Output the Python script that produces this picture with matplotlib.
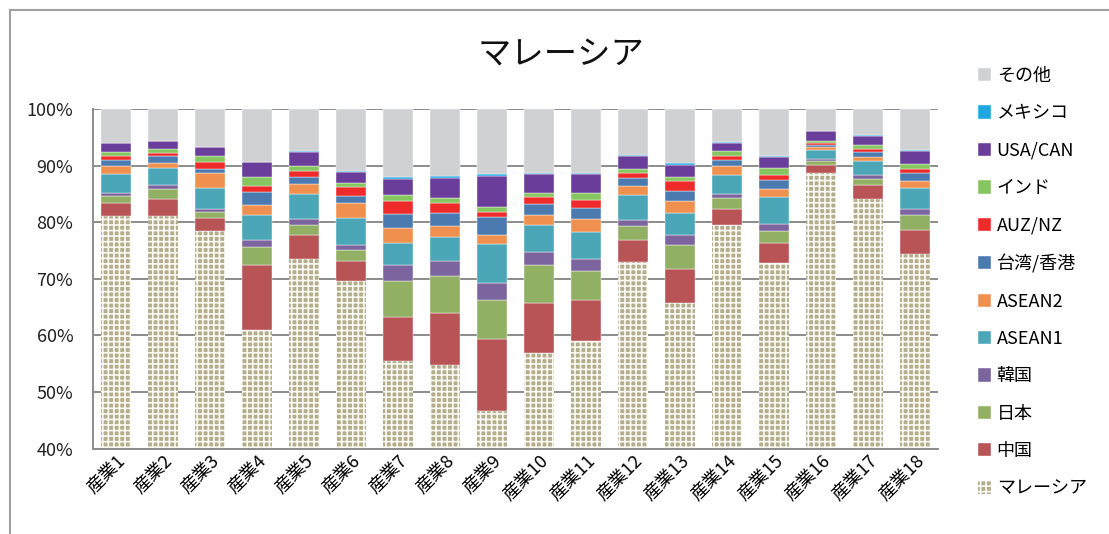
import matplotlib
matplotlib.use('Agg')
import matplotlib.pyplot as plt
from matplotlib.patches import Rectangle
import numpy as np

plt.rcParams['font.family'] = ['Noto Sans CJK JP', 'DejaVu Sans']
plt.rcParams['hatch.linewidth'] = 1.2

# ── data (share of value added, %) ───────────────────────────────────────────
industries = [f'産業{i}' for i in range(1, 19)]

malaysia = [81.0, 81.1, 78.5, 61.0, 73.5, 69.6, 55.5, 54.8, 46.6,
            56.8, 59.0, 72.9, 65.7, 79.5, 72.7, 88.6, 84.15, 74.4]
china    = [2.3, 3.0, 2.3, 11.5, 4.15, 3.5, 7.8, 9.2, 12.7,
            8.9, 7.3, 4.0, 6.05, 2.9, 3.7, 1.5, 2.35, 4.2]
japan    = [1.25, 1.7, 1.0, 3.1, 1.85, 2.0, 6.3, 6.4, 6.9,
            6.8, 5.1, 2.5, 4.15, 1.9, 2.1, 0.7, 1.2, 2.65]
korea    = [0.55, 0.75, 0.6, 1.3, 1.0, 0.95, 2.9, 2.65, 3.0,
            2.3, 2.1, 1.0, 1.75, 0.7, 1.1, 0.3, 0.6, 1.15]
asean1   = [3.4, 2.95, 3.7, 4.3, 4.4, 4.65, 3.9, 4.3, 7.0,
            4.7, 4.75, 4.45, 4.0, 3.3, 4.8, 1.6, 2.45, 3.6]
asean2   = [1.5, 0.95, 2.6, 1.9, 1.8, 2.7, 2.55, 2.05, 1.5,
            1.8, 2.25, 1.55, 2.15, 1.7, 1.4, 0.65, 0.8, 1.3]
taiwan   = [0.9, 1.15, 0.75, 2.3, 1.2, 1.3, 2.45, 2.25, 3.25,
            1.9, 2.0, 1.4, 1.7, 0.9, 1.6, 0.35, 0.85, 1.3]
auz      = [0.85, 0.7, 1.25, 1.0, 1.2, 1.45, 2.3, 1.65, 0.9,
            1.2, 1.5, 0.9, 1.7, 0.85, 1.0, 0.3, 0.5, 0.8]
india    = [0.7, 0.6, 1.05, 1.6, 0.9, 0.85, 1.15, 1.05, 0.75,
            0.8, 1.1, 0.75, 0.8, 0.75, 1.2, 0.3, 0.7, 0.8]
usa      = [1.45, 1.4, 1.45, 2.6, 2.4, 1.9, 2.75, 3.45, 5.6,
            3.25, 3.4, 2.15, 2.15, 1.5, 1.85, 1.75, 1.7, 2.4]
mexico   = [0.1, 0.1, 0.1, 0.1, 0.1, 0.1, 0.4, 0.3, 0.35,
            0.25, 0.2, 0.2, 0.25, 0.1, 0.15, 0.1, 0.1, 0.2]
other    = [6.0, 5.6, 6.7, 9.3, 7.5, 11.0, 12.0, 11.9, 11.45,
            11.3, 11.3, 8.2, 9.6, 5.9, 8.4, 3.85, 4.6, 7.2]

series_names = ['マレーシア', '中国', '日本', '韓国', 'ASEAN1', 'ASEAN2',
                '台湾/香港', 'AUZ/NZ', 'インド', 'USA/CAN', 'メキシコ', 'その他']
series_vals = [malaysia, china, japan, korea, asean1, asean2,
               taiwan, auz, india, usa, mexico, other]
series_colors = ['#b3ad8c', '#b85356', '#92b063', '#7c659e', '#4ba6b8',
                 '#f0904f', '#4a7ab0', '#ee2a2a', '#86c661', '#6b3d9a',
                 '#1ea7e1', '#d0d1d3']

# ── plot ─────────────────────────────────────────────────────────────────────
fig = plt.figure(figsize=(11.09, 5.34), dpi=100)
ax = fig.add_axes([0.0836, 0.160, 0.7624, 0.636])

x = np.arange(len(industries))
bottom = np.zeros(len(industries))
handles = []
for name, vals, col in zip(series_names, series_vals, series_colors):
    vals = np.array(vals)
    if name == 'マレーシア':
        h = ax.bar(x, vals, 0.64, bottom=bottom, facecolor=col,
                   edgecolor='#faf9f4', linewidth=0, hatch='+++',
                   label=name, zorder=2)
    else:
        h = ax.bar(x, vals, 0.64, bottom=bottom, color=col,
                   edgecolor='white', linewidth=0.3, label=name, zorder=2)
    handles.append(h)
    bottom += vals

ax.set_xlim(-0.5, 17.5)
ax.set_ylim(40, 100)
ax.set_yticks(np.arange(40, 101, 10))
ax.set_yticklabels([f'{v}%' for v in range(40, 101, 10)], fontsize=13,
                   color='#222222')
ax.yaxis.grid(True, color='#8c8c8c', linewidth=1.4, zorder=0)
ax.set_axisbelow(True)
ax.tick_params(axis='both', length=0, pad=14)
ax.tick_params(axis='x', pad=2)
ax.set_xticks(x)
ax.set_xticklabels(industries, rotation=45, ha='right', va='top',
                   rotation_mode='anchor', fontsize=13)
for side in ['top', 'right']:
    ax.spines[side].set_visible(False)
for side in ['left', 'bottom']:
    ax.spines[side].set_color('#8c8c8c')
    ax.spines[side].set_linewidth(1.4)

fig.text(0.506, 0.897, 'マレーシア', ha='center', va='center', fontsize=24,
         color='#111111')

leg = fig.legend(handles[::-1], series_names[::-1], loc='upper left',
                 bbox_to_anchor=(0.867, 0.905), frameon=False, fontsize=13,
                 handlelength=0.75, handleheight=0.75, handletextpad=0.3,
                 labelspacing=1.075)

# chart frame (left/top edges visible, the rest is cut off)
fig.patches.append(Rectangle((10 / 1109, -0.1), 1.2, 1 - 10 / 534 + 0.1,
                             transform=fig.transFigure, fill=False,
                             edgecolor='#a0a0a0', linewidth=1.5))

fig.savefig('out.png', dpi=100)
